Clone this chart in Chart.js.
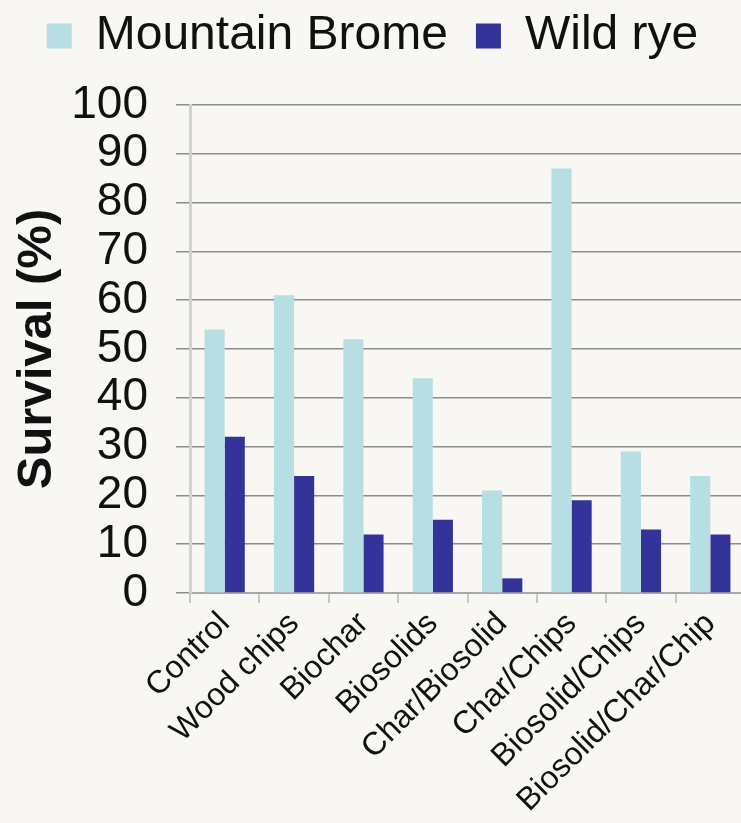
<!DOCTYPE html>
<html>
<head>
<meta charset="utf-8">
<script src="https://cdn.jsdelivr.net/npm/chart.js@4"></script>
<style>
  html, body { margin: 0; padding: 0; overflow: hidden; background: #f8f7f3; }
  #wrap { width: 745px; height: 823px; position: relative; }
</style>
</head>
<body>
<div id="wrap"><canvas id="survivalChart"></canvas></div>
<script>
// DATA
const treatments = ["Control", "Wood chips", "Biochar", "Biosolids", "Char/Biosolid",
  "Char/Chips", "Biosolid/Chips", "Biosolid/Char/Chip"];
const mountainBrome = [54, 61, 52, 44, 21, 87, 29, 24];
const wildRye = [32, 24, 12, 15, 3, 19, 13, 12];
const yTicks = [0, 10, 20, 30, 40, 50, 60, 70, 80, 90, 100];

const FONT = "'Liberation Sans', Arial, sans-serif";

// give the legend some extra room below it
const legendSpace = {
  id: "legendSpace",
  beforeInit(chart) {
    const fit = chart.legend.fit;
    chart.legend.fit = function () {
      fit.call(this);
      this.height += 35;
    };
  }
};

const ctx = document.getElementById("survivalChart").getContext("2d");

const chart = new Chart(ctx, {
  type: "bar",
  data: {
    labels: treatments,
    datasets: [
      {
        label: "Mountain Brome",
        data: mountainBrome,
        backgroundColor: "#b7dfe3",
        categoryPercentage: 0.58,
        barPercentage: 1.0
      },
      {
        label: "Wild rye",
        data: wildRye,
        backgroundColor: "#333399",
        categoryPercentage: 0.58,
        barPercentage: 1.0
      }
    ]
  },
  plugins: [legendSpace],
  options: {
    animation: false,
    responsive: true,
    maintainAspectRatio: false,
    layout: { padding: { top: -16, left: 0, right: 0, bottom: 0 } },
    plugins: {
      legend: {
        position: "top",
        labels: {
          color: "#111",
          font: { family: FONT, size: 48 },
          boxWidth: 25,
          boxHeight: 25,
          padding: 28
        }
      },
      tooltip: { enabled: false }
    },
    scales: {
      x: {
        afterFit: s => { s.height = 230; },
        grid: {
          drawOnChartArea: false,
          color: "#c8c8c8",
          lineWidth: 2,
          tickLength: 10
        },
        border: { color: "#a8a8a8", width: 2 },
        ticks: {
          color: "#111",
          font: { family: FONT, size: 32 },
          minRotation: 45,
          maxRotation: 45,
          autoSkip: false,
          padding: 2
        }
      },
      y: {
        min: 0,
        max: 100,
        afterFit: s => { s.width = 190; },
        afterBuildTicks: s => { s.ticks = yTicks.map(v => ({ value: v })); },
        grid: {
          color: "#8c8c8c",
          lineWidth: 1.5,
          tickLength: 14
        },
        border: { color: "#d2d2d2", width: 3 },
        ticks: {
          color: "#111",
          font: { family: FONT, size: 46 },
          autoSkip: false,
          padding: 28
        },
        title: {
          display: true,
          text: "Survival (%)",
          color: "#111",
          font: { family: FONT, size: 49, weight: "bold" },
          padding: { top: 8, bottom: 0 }
        }
      }
    }
  }
});
</script>
</body>
</html>
